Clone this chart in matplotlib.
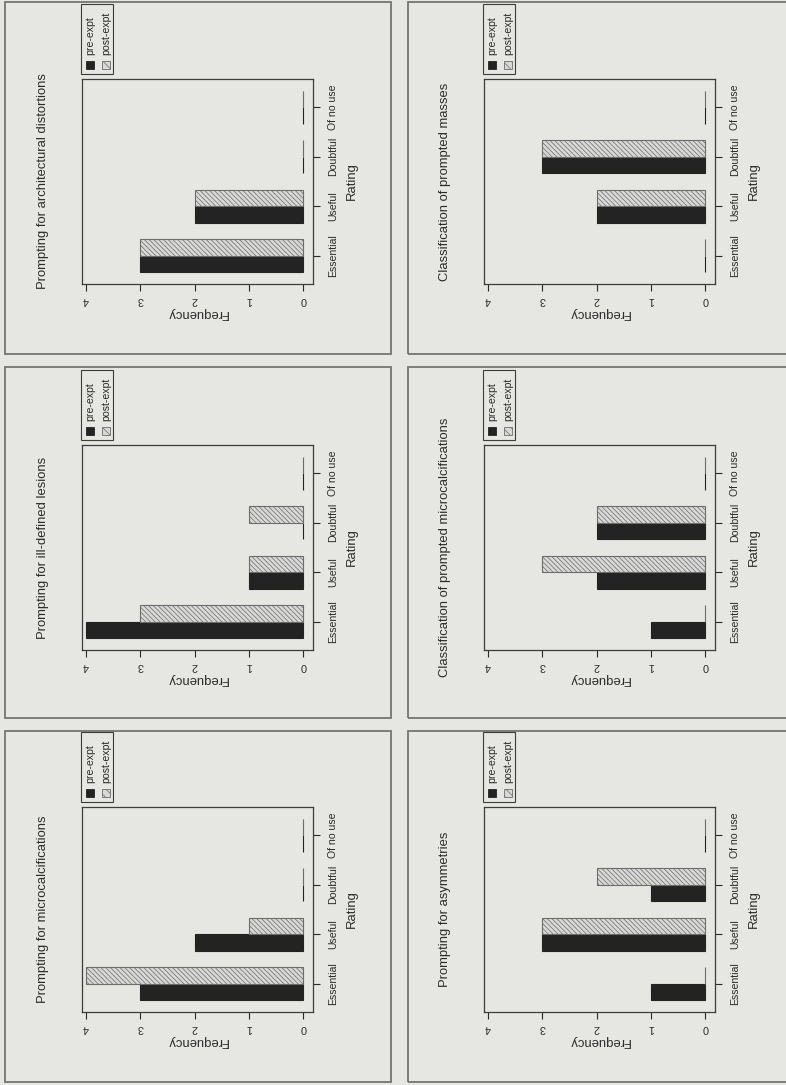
import numpy as np
import matplotlib
matplotlib.use("Agg")
import matplotlib.pyplot as plt
from matplotlib.patches import Rectangle

plt.rcParams['font.family'] = ['Liberation Sans', 'DejaVu Sans']
plt.rcParams['hatch.linewidth'] = 0.5

# ---- data -------------------------------------------------------------
ratings = ["Essential", "Useful", "Doubtful", "Of no use"]
series_names = ["pre-expt", "post-expt"]
freq_ticks = [0, 1, 2, 3, 4]

titles = [
    "Prompting for architectural distortions",
    "Classification of prompted masses",
    "Prompting for ill-defined lesions",
    "Classification of prompted microcalcifications",
    "Prompting for microcalcifications",
    "Prompting for asymmetries",
]
pre_expt = [
    [3, 2, 0, 0],
    [0, 2, 3, 0],
    [4, 1, 0, 0],
    [1, 2, 2, 0],
    [3, 2, 0, 0],
    [1, 3, 1, 0],
]
post_expt = [
    [3, 2, 0, 0],
    [0, 2, 3, 0],
    [3, 1, 1, 0],
    [0, 3, 2, 0],
    [4, 1, 0, 0],
    [0, 3, 2, 0],
]

# ---- style ------------------------------------------------------------
PAGE = "#e6e6e2"
INK = "#2a2a2a"
DARK = "#232323"
LIGHT = "#d8d8d6"
HATCH_EDGE = "#6c6c6c"
BOX = "#747474"
HATCH = "\\" * 7

W, H = 786, 1085
fig = plt.figure(figsize=(W / 100, H / 100), dpi=100, facecolor=PAGE)


def fx(x):
    return x / W


def fy(y):
    return 1 - y / H


def add_rect(x0, y0, x1, y1, **kw):
    fig.add_artist(Rectangle((fx(x0), fy(y1)), (x1 - x0) / W, (y1 - y0) / H,
                             transform=fig.transFigure, **kw))


# page layout (pixels, origin at top-left)
FRAME_W, FRAME_H = 231, 205
col_left = [82, 484]
row_top = [79, 445, 807]
box_x = [(5, 391), (408, 800)]
box_y = [(2, 354), (367, 718), (731, 1082)]

centers = 3 * np.arange(len(ratings)) + 2

for k, title in enumerate(titles):
    r, c = divmod(k, 2)
    L, T = col_left[c], row_top[r]
    R, B = L + FRAME_W, T + FRAME_H

    # panel border
    add_rect(box_x[c][0], box_y[r][0], box_x[c][1], box_y[r][1],
             fill=False, edgecolor=BOX, lw=1.3)

    ax = fig.add_axes([fx(L), fy(B), FRAME_W / W, FRAME_H / H])
    ax.set_facecolor("none")
    ax.barh(centers - 0.5, pre_expt[k], height=1.0, color=DARK,
            edgecolor=DARK, lw=0.8)
    ax.barh(centers + 0.5, post_expt[k], height=1.0, color=LIGHT,
            edgecolor=HATCH_EDGE, hatch=HATCH, lw=0.8)

    ax.set_xlim(4.07, -0.18)
    ax.set_ylim(0.3, 12.7)

    ax.set_xticks(freq_ticks)
    ax.set_xticklabels([str(t) for t in freq_ticks], rotation=180,
                       fontsize=7.8, color=INK)
    ax.tick_params(axis="x", direction="out", length=5, width=0.8,
                   pad=3, colors=INK)

    ax.yaxis.tick_right()
    ax.set_yticks(centers)
    ax.set_yticklabels(ratings, rotation=90, va="center", fontsize=7.6,
                       color=INK)
    ax.tick_params(axis="y", direction="out", length=5, width=0.8,
                   pad=6, colors=INK)
    for s in ax.spines.values():
        s.set_color("#3c3c3c")
        s.set_linewidth(0.9)

    # axis titles and panel title
    fig.text(fx((L + R) / 2), fy(B + 29), "Frequency", rotation=180,
             ha="center", va="center", fontsize=9.4, color=INK)
    fig.text(fx(R + 39), fy((T + B) / 2), "Rating", rotation=90,
             ha="center", va="center", fontsize=9.4, color=INK)
    fig.text(fx(L - 39), fy((T + B) / 2), title, rotation=90,
             ha="center", va="center", fontsize=9.4, color=INK)

    # legend
    add_rect(L - 1, T - 75, L + 31, T - 5, fill=False, edgecolor="#3c3c3c",
             lw=0.8)
    add_rect(L + 4, T - 18, L + 12, T - 10, facecolor=DARK, edgecolor=DARK,
             lw=0.6)
    add_rect(L + 20, T - 18, L + 28, T - 10, facecolor=LIGHT,
             edgecolor=HATCH_EDGE, hatch="\\\\\\\\", lw=0.6)
    for name, xc in zip(series_names, (L + 8.5, L + 24.5)):
        fig.text(fx(xc), fy(T - 24), name, rotation=90, ha="center",
                 va="bottom", fontsize=7.6, color=INK)

fig.savefig("out.png", dpi=100, facecolor=PAGE)
